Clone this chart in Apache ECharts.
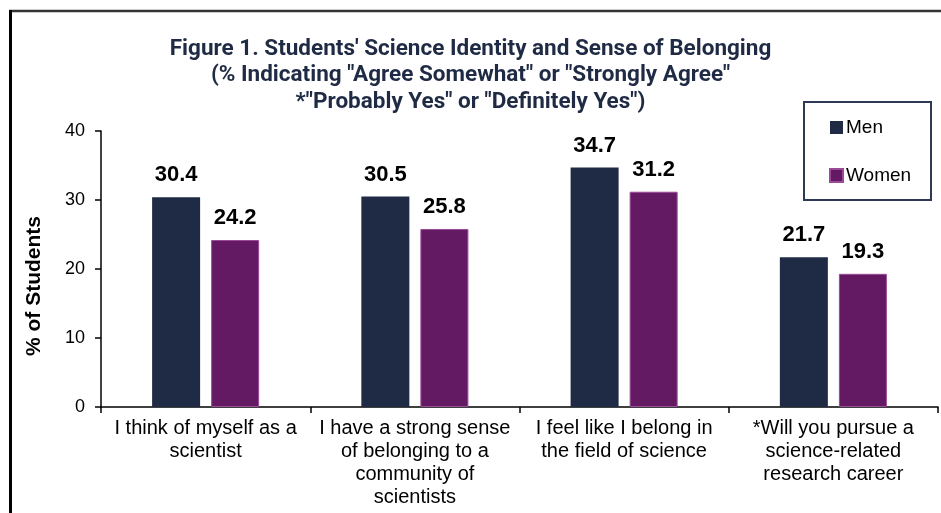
<!DOCTYPE html>
<html>
<head>
<meta charset="utf-8">
<script src="https://cdn.jsdelivr.net/npm/echarts@6/dist/echarts.min.js"></script>
<style>
html,body{margin:0;padding:0;background:#fff;}
#chart{width:941px;height:513px;}
</style>
</head>
<body>
<div id="chart"></div>
<script>
const titleLines = [
  "Figure 1. Students' Science Identity and Sense of Belonging",
  "(% Indicating \"Agree Somewhat\" or \"Strongly Agree\"",
  "*\"Probably Yes\" or \"Definitely Yes\")"
];
const categories = [
  "I think of myself as a\nscientist",
  "I have a strong sense\nof belonging to a\ncommunity of\nscientists",
  "I feel like I belong in\nthe field of science",
  "*Will you pursue a\nscience-related\nresearch career"
];
const seriesNames = ["Men", "Women"];
const menValues = [30.4, 30.5, 34.7, 21.7];
const womenValues = [24.2, 25.8, 31.2, 19.3];
const yTicks = [0, 10, 20, 30, 40];
const yAxisTitle = "% of Students";

const chart = echarts.init(document.getElementById('chart'));
const labelStyle = {
  show: true, position: 'top', distance: 11,
  color: '#000', fontFamily: 'Liberation Sans', fontWeight: 'bold', fontSize: 22,
  formatter: p => p.value.toFixed(1)
};
chart.setOption({
  animation: false,
  backgroundColor: '#fff',
  title: {
    text: titleLines.join('\n'),
    left: 'center',
    top: 31,
    textStyle: {
      color: '#1f2a44', fontFamily: 'Roboto', fontWeight: 'bold',
      fontSize: 22.5, lineHeight: 26.5
    }
  },
  legend: {
    data: seriesNames,
    orient: 'vertical',
    left: 829, top: 118, padding: 0,
    itemWidth: 13, itemHeight: 13, itemGap: 29,
    icon: 'rect',
    textStyle: { fontFamily: 'Liberation Sans', fontSize: 19, color: '#000', padding: [0,0,0,-2] }
  },
  grid: { left: 101, right: 3, top: 131, bottom: 106 },
  xAxis: {
    type: 'category',
    data: categories,
    axisLine: { lineStyle: { color: '#000', width: 1.5 } },
    axisTick: { show: true, length: 6, lineStyle: { color: '#000', width: 1.5 } },
    axisLabel: {
      interval: 0, margin: 10, color: '#000',
      fontFamily: 'Liberation Sans', fontSize: 20, lineHeight: 23
    }
  },
  yAxis: {
    type: 'value',
    min: yTicks[0], max: yTicks[yTicks.length - 1], interval: 10,
    splitLine: { show: false },
    axisLine: { show: true, lineStyle: { color: '#000', width: 1.5 } },
    axisTick: { show: true, length: 6, lineStyle: { color: '#000', width: 1.5 } },
    axisLabel: { margin: 16, color: '#000', fontFamily: 'Liberation Sans', fontSize: 18 }
  },
  series: [
    {
      name: seriesNames[0], type: 'bar', data: menValues,
      barWidth: 48, barGap: '23%',
      itemStyle: { color: '#1f2a44' },
      label: labelStyle
    },
    {
      name: seriesNames[1], type: 'bar', data: womenValues,
      barWidth: 48,
      itemStyle: { color: '#641a63', borderColor: '#9a4a98', borderWidth: 1 },
      label: labelStyle
    }
  ],
  graphic: [
    { type: 'line', shape: { x1: 9, y1: 11, x2: 941, y2: 11 }, style: { stroke: '#333', lineWidth: 2.5 } },
    { type: 'line', shape: { x1: 10.5, y1: 10, x2: 10.5, y2: 513 }, style: { stroke: '#000', lineWidth: 3 } },
    { type: 'rect', shape: { x: 804, y: 102, width: 127, height: 98 }, style: { fill: 'none', stroke: '#2e3a55', lineWidth: 2 }, z: 10 },
    { type: 'text', x: 34, y: 286, rotation: Math.PI / 2,
      style: { text: yAxisTitle, font: 'bold 21px "Liberation Sans"', fill: '#000', textAlign: 'center', textVerticalAlign: 'middle' } }
  ]
});
</script>
</body>
</html>
